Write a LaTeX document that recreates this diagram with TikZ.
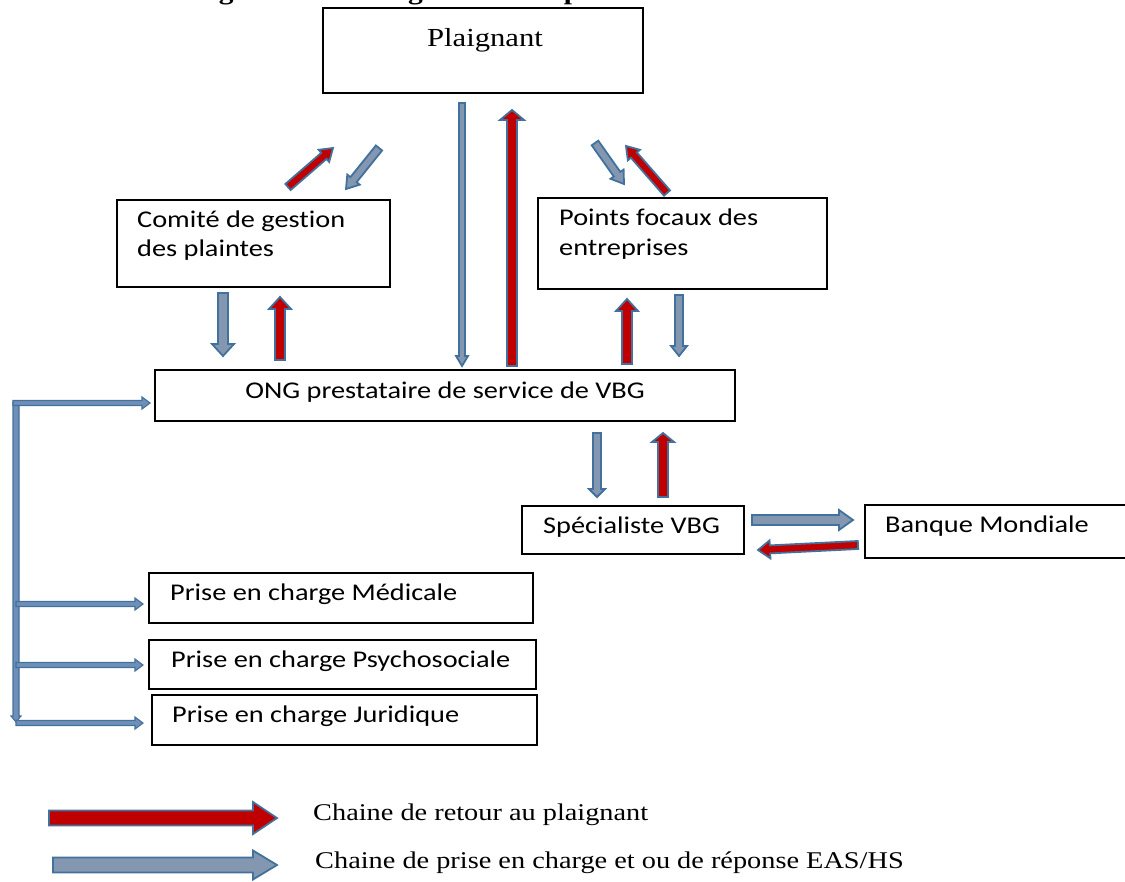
\documentclass[tikz,border=0pt]{standalone}
\usepackage{fontspec}
\setmainfont{Liberation Serif}[FakeStretch=1.18]
\newfontfamily\calibri{Carlito}[FakeStretch=1.18, Ligatures=NoCommon]
\usetikzlibrary{calc}
\definecolor{aout}{HTML}{41719C}
\definecolor{afillb}{HTML}{8497B0}
\definecolor{afillr}{HTML}{C00000}
\definecolor{bfill}{HTML}{6F8FB8}
\tikzset{
  box/.style={draw=black, line width=1.2pt, inner sep=0pt, outer sep=0pt, anchor=north west},
  boxtext/.style={font=\calibri\fontsize{24}{29}\selectfont, anchor=base west, inner sep=0pt},
  seriftext/.style={font=\fontsize{24}{29}\selectfont, anchor=base west, inner sep=0pt},
  arr/.style={draw=aout, line width=1.8pt, line join=miter},
  bluearr/.style={arr, fill=afillb},
  redarr/.style={arr, fill=afillr},
  thinarr/.style={draw=aout, line width=1.1pt, fill=bfill, line join=miter},
}
% #1 style, #2 from, #3 to, #4 half shaft, #5 half head, #6 head length
\newcommand\barrow[6]{%
  \coordinate (bA) at ($(#3)!#6!(#2)$);
  \draw[#1] ($(#2)!#4!90:(#3)$) -- ($(bA)!#4!90:(#3)$) -- ($(bA)!#5!90:(#3)$) -- (#3)
    -- ($(bA)!#5!-90:(#3)$) -- ($(bA)!#4!-90:(#3)$) -- ($(#2)!#4!-90:(#3)$) -- cycle;
}
\begin{document}
\begin{tikzpicture}[x=1pt,y=-1pt]
\useasboundingbox (0,0) rectangle (1125,882);
\begin{scope}
\clip (0,0) rectangle (1125,882);
% title (cut off at the top, as in the reference)
\node[anchor=base west, inner sep=0pt, font=\bfseries\fontsize{25}{30}\selectfont] (title) at (0,-0.5) {a. Mécanisme de gestion et de règlement des plaintes VBG};

% boxes
\node[box, minimum width=320pt, minimum height=85pt] (plaignant) at (323,8) {};
\node[anchor=base, inner sep=0pt, font=\fontsize{26}{31}\selectfont] (plaignantT) at (485,47) {Plaignant};

\node[box, minimum width=273pt, minimum height=87pt] (comite) at (117,200) {};
\node[boxtext] (comiteT1) at (137,228) {Comité de gestion};
\node[boxtext] (comiteT2) at (137,257) {des plaintes};

\node[box, minimum width=289pt, minimum height=91pt] (points) at (538,198) {};
\node[boxtext] (pointsT1) at (559,226) {Points focaux des};
\node[boxtext] (pointsT2) at (559,256) {entreprises};

\node[box, minimum width=580pt, minimum height=51pt] (ong) at (155,370) {};
\node[boxtext, anchor=base] (ongT) at (445,399) {ONG prestataire de service de VBG};

\node[box, minimum width=222pt, minimum height=48pt] (spec) at (522,506) {};
\node[boxtext] (specT) at (543,533) {Spécialiste VBG};

\node[box, minimum width=280pt, minimum height=53pt] (banque) at (865,505) {};
\node[boxtext] (banqueT) at (885,532) {Banque Mondiale};

\node[box, minimum width=384pt, minimum height=50pt] (med) at (149,573) {};
\node[boxtext] (medT) at (170,600) {Prise en charge Médicale};

\node[box, minimum width=387pt, minimum height=49pt] (psy) at (149,640) {};
\node[boxtext] (psyT) at (171,667) {Prise en charge Psychosociale};

\node[box, minimum width=385pt, minimum height=50pt] (jur) at (152,695) {};
\node[boxtext] (jurT) at (172,722) {Prise en charge Juridique};

% arrow end points
\coordinate (d1a) at (288,187); \coordinate (d1b) at (333,148);
\coordinate (d2a) at (379,148); \coordinate (d2b) at (346,189);
\coordinate (d3a) at (595,143); \coordinate (d3b) at (624,184);
\coordinate (d4a) at (667,193); \coordinate (d4b) at (626,146);
\coordinate (c1a) at (462,103); \coordinate (c1b) at (462,366);
\coordinate (c2a) at (512,366); \coordinate (c2b) at (512,110);
\coordinate (v1a) at (223,293); \coordinate (v1b) at (223,356);
\coordinate (v2a) at (280,360); \coordinate (v2b) at (280,297);
\coordinate (v3a) at (627,364); \coordinate (v3b) at (627,299);
\coordinate (v4a) at (679,295); \coordinate (v4b) at (679,356);
\coordinate (s1a) at (597,433); \coordinate (s1b) at (597,497);
\coordinate (s2a) at (663,497); \coordinate (s2b) at (663,433);
\coordinate (h1a) at (752,520); \coordinate (h1b) at (853,520);
\coordinate (h2a) at (858,545); \coordinate (h2b) at (758,550);
\coordinate (bv1) at (16,402); \coordinate (bv2) at (16,722);
\coordinate (b0) at (13,403); \coordinate (b0e) at (150,403);
\coordinate (b1) at (16,604); \coordinate (b1e) at (143,604);
\coordinate (b2) at (16,665); \coordinate (b2e) at (143,665);
\coordinate (b3) at (16,723); \coordinate (b3e) at (143,723);
\coordinate (l1a) at (49,818); \coordinate (l1b) at (277,818);
\coordinate (l2a) at (53,865); \coordinate (l2b) at (277,865);

% diagonal arrows near Plaignant
\barrow{redarr}{d1a}{d1b}{4pt}{8pt}{12pt}
\barrow{bluearr}{d2a}{d2b}{4pt}{8pt}{12pt}
\barrow{bluearr}{d3a}{d3b}{4pt}{8pt}{12pt}
\barrow{redarr}{d4a}{d4b}{4pt}{8pt}{12pt}
% central arrows
\barrow{bluearr}{c1a}{c1b}{3pt}{6pt}{10pt}
\barrow{redarr}{c2a}{c2b}{5pt}{12pt}{10pt}
% vertical pairs
\barrow{bluearr}{v1a}{v1b}{5pt}{11pt}{12pt}
\barrow{redarr}{v2a}{v2b}{5pt}{11pt}{12pt}
\barrow{redarr}{v3a}{v3b}{5pt}{11pt}{12pt}
\barrow{bluearr}{v4a}{v4b}{4pt}{8pt}{10pt}
\barrow{bluearr}{s1a}{s1b}{4pt}{8pt}{8pt}
\barrow{redarr}{s2a}{s2b}{5pt}{11pt}{9pt}
% to Banque Mondiale
\barrow{bluearr}{h1a}{h1b}{5pt}{10pt}{14pt}
\barrow{redarr}{h2a}{h2b}{4pt}{9pt}{12pt}
% left bracket
\barrow{thinarr}{bv1}{bv2}{3pt}{5pt}{6pt}
\barrow{thinarr}{b0}{b0e}{2.5pt}{6pt}{8pt}
\barrow{thinarr}{b1}{b1e}{2.5pt}{6pt}{8pt}
\barrow{thinarr}{b2}{b2e}{2.5pt}{6pt}{8pt}
\barrow{thinarr}{b3}{b3e}{2.5pt}{6pt}{8pt}

% legend
\barrow{redarr}{l1a}{l1b}{7.5pt}{16pt}{24pt}
\barrow{bluearr}{l2a}{l2b}{7.5pt}{14.5pt}{24pt}
\node[seriftext] (leg1) at (313,820) {Chaine de retour au plaignant};
\node[seriftext] (leg2) at (315,868) {Chaine de prise en charge et ou de réponse EAS/HS};
\end{scope}
\end{tikzpicture}
\end{document}
